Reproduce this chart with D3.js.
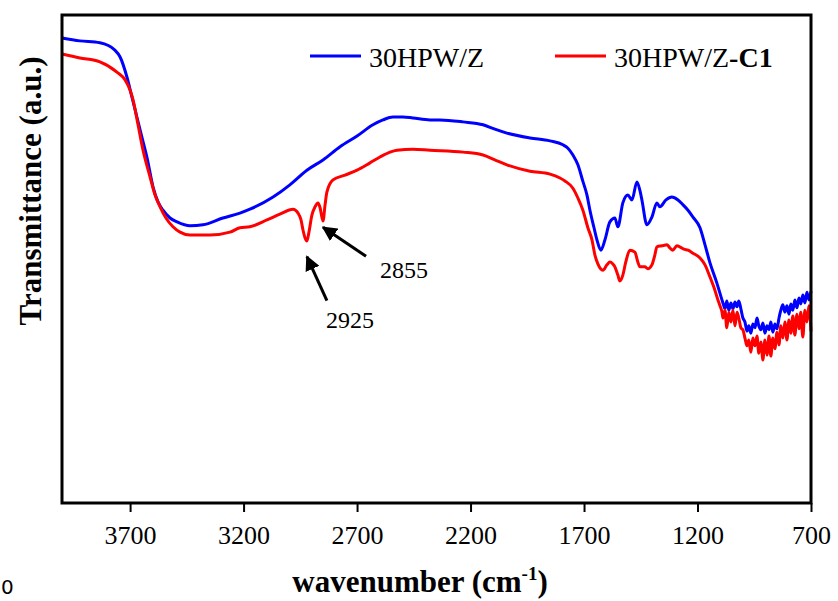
<!DOCTYPE html>
<html>
<head>
<meta charset="utf-8">
<script src="https://cdn.jsdelivr.net/npm/d3@7"></script>
<style>
  html, body { margin: 0; padding: 0; background: #fff; }
  svg { display: block; }
</style>
</head>
<body>
<script>
// FTIR spectra of 30HPW/Z before and after use (C1)
const seriesNames = ["30HPW/Z", "30HPW/Z-C1"];
const seriesColors = ["#0000ff", "#ff0000"];
const xTicks = [3700, 3200, 2700, 2200, 1700, 1200, 700];

const wnBlue = [4000, 3921, 3833, 3767, 3744, 3714, 3692, 3670, 3648, 3626, 3599, 3577, 3555, 3524, 3493, 3436, 3379, 3291, 3216, 3172, 3070, 2996, 2921, 2850, 2775, 2700, 2630, 2586, 2542, 2498, 2454, 2379, 2335, 2233, 2145, 2093, 2040, 1938, 1850, 1793, 1771, 1749, 1727, 1705, 1687, 1674, 1656, 1643, 1626, 1608, 1586, 1564, 1551, 1529, 1507, 1489, 1467, 1454, 1445, 1423, 1401, 1379, 1366, 1339, 1313, 1286, 1264, 1242, 1220, 1189, 1167, 1145, 1115,
  1088, 1079, 1071, 1062, 1053, 1044, 1035, 1026, 1018, 1009, 1000, 991, 982, 974, 965, 956, 947, 938, 930, 921, 912, 903, 894, 885, 877, 868, 859, 850, 841, 833, 824, 815, 806, 797, 789, 780, 771, 762, 753, 745, 736, 727, 718, 709, 700];
const tBlue = [95.3, 94.7, 94.3, 92.8, 91.4, 87.3, 83.2, 79.1, 75.0, 70.9, 64.8, 61.7, 60.0, 58.4, 57.6, 56.8, 57.0, 58.4, 59.4, 60.2, 62.7, 65.2, 68.2, 70.3, 73.0, 75.2, 77.5, 78.5, 79.1, 79.1, 78.9, 78.5, 78.5, 78.1, 77.5, 76.6, 75.8, 74.8, 74.2, 73.4, 72.7, 71.3, 69.3, 65.9, 63.1, 60.0, 56.4, 53.9, 51.8, 53.9, 57.6, 58.4, 56.6, 61.5, 63.1, 62.1, 65.8, 64.1, 62.1, 57.0, 58.6, 61.5, 60.7, 62.1, 62.7, 62.1, 61.1, 60.0, 58.6, 56.4, 52.9, 49.2, 45.1,
  41.0, 39.8, 41.4, 39.5, 41.0, 39.8, 41.2, 40.2, 41.4, 39.8, 37.9, 37.1, 35.2, 36.3, 34.8, 36.7, 35.9, 37.9, 36.3, 35.5, 36.9, 34.8, 36.3, 35.5, 37.1, 35.0, 36.7, 35.7, 37.9, 39.5, 40.6, 39.1, 40.4, 38.7, 40.8, 39.5, 41.6, 40.0, 42.0, 40.8, 42.6, 41.0, 43.2, 41.6, 43.4];

const wnRed = [4000, 3921, 3833, 3758, 3722, 3700, 3687, 3665, 3643, 3612, 3590, 3568, 3542, 3511, 3480, 3436, 3348, 3260, 3216, 3172, 3097, 3040, 2982, 2960, 2947, 2938, 2929, 2921, 2912, 2899, 2885, 2872, 2863, 2854, 2850, 2841, 2833, 2806, 2753, 2700, 2643, 2599, 2555, 2524, 2454, 2379, 2233, 2145, 2093, 2040, 1938, 1850, 1806, 1784, 1749, 1727, 1705, 1683, 1665, 1652, 1639, 1617, 1599, 1586, 1573, 1564, 1551, 1542, 1529, 1516, 1498, 1476, 1463, 1454, 1432, 1419, 1401, 1388, 1379, 1357, 1335, 1322, 1309, 1291, 1278, 1260, 1242, 1220, 1189, 1167, 1145, 1127, 1110, 1101, 1092,
  1088, 1079, 1071, 1062, 1053, 1044, 1035, 1026, 1018, 1009, 1000, 991, 982, 974, 965, 956, 947, 938, 930, 921, 912, 903, 894, 885, 877, 868, 859, 850, 841, 833, 824, 815, 806, 797, 789, 780, 771, 762, 753, 745, 736, 727, 718, 709, 700];
const tRed = [92.0, 91.2, 90.4, 88.3, 86.7, 84.6, 82.6, 77.5, 72.3, 66.8, 63.1, 60.7, 58.4, 56.6, 55.5, 54.9, 54.9, 55.5, 56.4, 56.6, 58.0, 59.2, 60.2, 59.4, 58.0, 55.9, 54.3, 53.7, 55.5, 59.0, 60.7, 61.5, 60.5, 58.4, 57.8, 61.1, 63.7, 66.2, 67.2, 68.2, 69.7, 70.9, 71.9, 72.3, 72.5, 72.3, 71.9, 71.3, 70.3, 69.3, 68.0, 67.4, 66.6, 66.0, 64.5, 62.5, 60.0, 56.4, 53.9, 50.8, 49.0, 47.7, 48.8, 49.4, 49.0, 48.4, 46.7, 45.5, 46.7, 49.4, 51.8, 51.4, 49.4, 48.4, 48.4, 48.0, 48.8, 50.8, 52.5, 52.7, 52.9, 52.3, 51.8, 52.7, 52.5, 52.0, 51.8, 51.2, 50.2, 48.8, 46.3, 44.1, 41.6, 40.4, 39.1,
  37.9, 39.5, 35.9, 39.1, 37.1, 39.5, 36.3, 39.1, 37.9, 35.9, 35.5, 33.8, 32.2, 33.4, 30.9, 33.8, 32.2, 34.2, 30.7, 33.0, 29.3, 33.4, 30.3, 34.2, 30.1, 33.8, 31.6, 35.0, 32.4, 36.3, 33.8, 37.1, 33.4, 37.5, 34.8, 38.3, 34.4, 38.7, 35.7, 39.1, 34.0, 39.5, 37.1, 40.4, 35.2];

// peak annotations on the C1 spectrum
const peakLabels = ["2925", "2855"];

const W = 838, H = 601;
const margin = { left: 62, top: 15, right: 838 - 811, bottom: 601 - 503 };
const serif = "'Liberation Serif', 'Times New Roman', serif";

const svg = d3.select("body").append("svg")
  .attr("width", W).attr("height", H)
  .attr("font-family", serif);

const x = d3.scaleLinear().domain([4000, 700]).range([margin.left, W - margin.right]);
const y = d3.scaleLinear().domain([0, 100]).range([H - margin.bottom, margin.top]);

const series = [
  { name: seriesNames[0], color: seriesColors[0], pts: wnBlue.map((w, i) => [w, tBlue[i]]) },
  { name: seriesNames[1], color: seriesColors[1], pts: wnRed.map((w, i) => [w, tRed[i]]) }
];

const line = d3.line()
  .x(d => x(d[0])).y(d => y(d[1]))
  .curve(d3.curveMonotoneX);

svg.append("g").selectAll("path")
  .data(series)
  .join("path")
  .attr("d", d => line(d.pts))
  .attr("fill", "none")
  .attr("stroke", d => d.color)
  .attr("stroke-width", 3)
  .attr("stroke-linejoin", "round");

// plot frame
svg.append("rect")
  .attr("x", x(4000)).attr("y", y(100))
  .attr("width", x(700) - x(4000)).attr("height", y(0) - y(100))
  .attr("fill", "none").attr("stroke", "#000").attr("stroke-width", 3);

// bottom axis
const xAxis = d3.axisBottom(x).tickValues(xTicks).tickSize(9).tickPadding(14).tickFormat(d3.format("d"));
const gx = svg.append("g").attr("transform", `translate(0,${y(0)})`).call(xAxis);
gx.select(".domain").remove();
gx.selectAll(".tick line").attr("stroke", "#000").attr("stroke-width", 2);
gx.selectAll(".tick text")
  .attr("font-family", serif).attr("font-size", 26).attr("fill", "#000")
  .attr("dy", "0.71em");

// axis titles
const xt = svg.append("text")
  .attr("x", 420).attr("y", 592)
  .attr("text-anchor", "middle")
  .attr("font-size", 31).attr("font-weight", "bold");
xt.append("tspan").text("wavenumber (cm");
xt.append("tspan").attr("font-size", 19).attr("dy", -12).text("-1");
xt.append("tspan").attr("dy", 12).text(")");

svg.append("text")
  .attr("transform", "translate(41,191) rotate(-90)")
  .attr("text-anchor", "middle")
  .attr("font-size", 31).attr("font-weight", "bold")
  .text("Transmittance (a.u.)");

// legend
const legendX = [310, 555];
series.forEach((s, i) => {
  const g = svg.append("g");
  g.append("line")
    .attr("x1", legendX[i]).attr("x2", legendX[i] + 51)
    .attr("y1", 56).attr("y2", 56)
    .attr("stroke", s.color).attr("stroke-width", 3);
  const t = g.append("text")
    .attr("x", legendX[i] + 59).attr("y", 67)
    .attr("font-size", 28);
  if (i === 0) {
    t.text(s.name);
  } else {
    t.append("tspan").text("30HPW/Z");
    t.append("tspan").attr("font-weight", "bold").text("-C1");
  }
});

// arrows pointing at the C-H stretching bands
const defs = svg.append("defs");
defs.append("marker")
  .attr("id", "head")
  .attr("viewBox", "0 0 10 10")
  .attr("refX", 9).attr("refY", 5)
  .attr("markerWidth", 5).attr("markerHeight", 5)
  .attr("markerUnits", "strokeWidth")
  .attr("orient", "auto")
  .append("path").attr("d", "M0,0 L10,5 L0,10 Z").attr("fill", "#000");

const arrows = [
  { wn: 2921, val: 50.5, dx: 20, dy: 44, label: peakLabels[0], lx: 326, ly: 328 },
  { wn: 2850, val: 56.5, dx: 43, dy: 29, label: peakLabels[1], lx: 380, ly: 278 }
];
arrows.forEach(a => {
  const tx = x(a.wn), ty = y(a.val);
  svg.append("line")
    .attr("x1", tx + a.dx).attr("y1", ty + a.dy)
    .attr("x2", tx).attr("y2", ty)
    .attr("stroke", "#000").attr("stroke-width", 3)
    .attr("marker-end", "url(#head)");
  svg.append("text")
    .attr("x", a.lx).attr("y", a.ly)
    .attr("font-size", 24)
    .text(a.label);
});

// small digit at the lower-left corner
svg.append("text")
  .attr("x", 1).attr("y", 594)
  .attr("font-family", "'DejaVu Sans', sans-serif")
  .attr("font-size", 20)
  .text("0");
</script>
</body>
</html>
